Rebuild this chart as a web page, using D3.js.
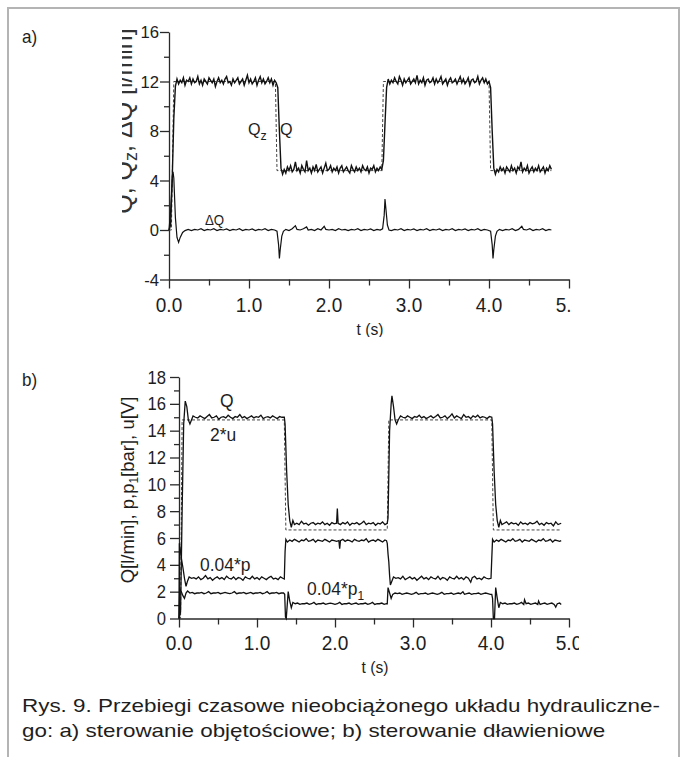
<!DOCTYPE html>
<html>
<head>
<meta charset="utf-8">
<script src="https://cdn.jsdelivr.net/npm/d3@7"></script>
<style>
  body { margin: 0; background: #fff; }
  text { font-family: "Liberation Sans", Arial, sans-serif; fill: #1e1e1e; }
</style>
</head>
<body>
<div id="chart"></div>
<script>
// ---- tick values ----
const xTicks = [0, 1, 2, 3, 4, 5];
const xMinor = [0.5, 1.5, 2.5, 3.5, 4.5];
const aYTicks = [-4, 0, 4, 8, 12, 16];
const aYMinor = [-2, 2, 6, 10, 14];
const bYTicks = [0, 2, 4, 6, 8, 10, 12, 14, 16, 18];
const bYMinor = [1, 3, 5, 7, 9, 11, 13, 15, 17];

// ---- panel a) ----
// Q sampled every 0.02 s from t = 0 (one row = 0.2 s)
const aDt = 0.02;
const aQ = [
  0, 0.4, 4.0, 9.0, 11.6, 12.2, 11.8, 12.1, 11.9, 12.3,
  11.7, 12.1, 12.0, 12.3, 11.8, 12.2, 11.9, 12.0, 12.4, 11.8,
  12.1, 11.7, 12.2, 12.0, 11.8, 12.3, 12.1, 11.9, 12.2, 11.6,
  12.0, 12.3, 11.9, 12.1, 11.8, 12.2, 12.4, 11.9, 12.0, 11.7,
  12.2, 11.9, 12.1, 12.3, 11.8, 12.0, 12.2, 11.7, 12.1, 12.5,
  11.9, 12.2, 11.8, 12.0, 12.3, 11.7, 12.1, 12.4, 11.9, 12.2,
  11.8, 12.0, 12.3, 11.9, 12.2, 11.7, 12.1, 11.9, 11.5, 8.0,
  5.0, 4.5, 4.9, 4.6, 5.1, 4.8, 5.2, 4.7, 4.9, 5.5,
  4.8, 5.0, 4.6, 5.2, 4.9, 4.7, 5.6, 4.8, 5.0, 4.6,
  5.1, 4.8, 5.3, 4.7, 4.9, 5.1, 4.6, 5.0, 5.4, 4.8,
  4.9, 5.2, 4.7, 5.0, 4.8, 5.1, 4.6, 5.0, 5.2, 4.7,
  4.9, 5.1, 4.8, 4.6, 5.2, 4.9, 4.7, 5.1, 4.8, 5.0,
  4.7, 5.2, 4.9, 4.8, 5.1, 4.6, 5.0, 4.9, 5.2, 4.7,
  5.0, 4.8, 5.1, 4.9, 5.6, 8.6, 11.5, 12.2, 11.8, 12.1,
  11.9, 12.3, 12.0, 11.8, 12.4, 12.1, 11.7, 12.2, 11.9, 12.1,
  12.3, 11.8, 12.0, 12.2, 11.9, 12.5, 11.8, 12.1, 11.9, 12.3,
  11.7, 12.1, 12.2, 11.9, 12.0, 12.3, 11.8, 12.2, 11.9, 12.1,
  12.4, 11.8, 12.0, 12.2, 11.7, 12.1, 12.3, 11.9, 12.0, 12.2,
  11.8, 12.1, 12.4, 11.9, 12.2, 11.8, 12.0, 12.3, 11.7, 12.1,
  12.2, 11.9, 12.0, 12.4, 11.8, 12.1, 12.3, 11.9, 12.2, 11.8,
  12.0, 11.5, 8.0, 5.0, 4.5, 4.9, 4.7, 5.1, 4.8, 5.0,
  4.6, 5.1, 4.9, 4.7, 5.2, 4.8, 5.0, 4.6, 5.1, 4.9,
  5.5, 4.7, 5.0, 4.8, 5.2, 4.6, 4.9, 5.1, 4.7, 5.0,
  4.8, 5.2, 4.7, 4.9, 5.1, 4.6, 5.0, 4.8, 5.2, 4.9
];

// [t (s), value]
const aQz = [[0,0],[0.03,0],[0.06,12],[1.33,12],[1.35,4.8],[2.66,4.8],[2.68,12],[4.0,12],[4.02,4.8],[4.78,4.8]];

const aDQ = [[0,0],[0.02,1.5],[0.04,4.2],[0.05,4.7],[0.06,4.2],[0.08,1.0],[0.10,-0.6],[0.12,-1.0],[0.14,-0.6],
  [0.17,-0.2],[0.20,-0.05],[0.24,0.05],[0.28,-0.05],[0.32,0.05],[0.36,0],[0.40,0.1],[0.44,-0.05],[0.48,0.05],
  [0.52,0],[0.56,0.1],[0.60,-0.05],[0.64,0.05],[0.68,0],[0.72,0.08],[0.76,-0.05],[0.80,0.05],[0.84,0],[0.88,0.1],
  [0.92,-0.05],[0.96,0.05],[1.00,0],[1.04,0.08],[1.08,-0.05],[1.12,0.05],[1.16,0],[1.20,0.1],[1.24,-0.05],
  [1.28,0.05],[1.32,0],[1.35,-0.1],[1.37,-1.2],[1.38,-2.3],[1.39,-1.6],[1.41,-0.5],[1.43,-0.1],[1.46,0.05],
  [1.50,-0.05],[1.54,0.1],[1.58,0.35],[1.60,0.05],[1.64,0],[1.68,0.1],[1.72,0.25],[1.74,0],[1.78,0.05],
  [1.82,-0.05],[1.86,0.1],[1.90,0],[1.94,0.3],[1.96,0.05],[2.00,0],[2.04,0.05],[2.08,-0.05],[2.12,0.1],[2.16,0],
  [2.20,0.05],[2.24,-0.05],[2.28,0.05],[2.32,0],[2.36,0.1],[2.40,-0.05],[2.44,0.05],[2.48,0],[2.52,0.08],
  [2.56,-0.05],[2.60,0.05],[2.64,0],[2.67,0.1],[2.69,1.2],[2.70,2.5],[2.71,1.8],[2.73,0.4],[2.75,0],[2.78,-0.05],
  [2.82,0.05],[2.86,0],[2.90,0.1],[2.94,-0.05],[2.98,0.05],[3.02,0],[3.06,0.08],[3.10,-0.05],[3.14,0.05],[3.18,0],
  [3.22,0.1],[3.26,-0.05],[3.30,0.05],[3.34,0],[3.38,0.08],[3.42,-0.05],[3.46,0.05],[3.50,0],[3.54,0.1],
  [3.58,-0.05],[3.62,0.05],[3.66,0],[3.70,0.08],[3.74,-0.05],[3.78,0.05],[3.82,0],[3.86,0.1],[3.90,-0.05],
  [3.94,0.05],[3.98,0],[4.02,-0.1],[4.04,-1.2],[4.05,-2.3],[4.06,-1.6],[4.08,-0.5],[4.10,-0.1],[4.13,0.05],
  [4.17,-0.05],[4.21,0.05],[4.25,0],[4.29,0.1],[4.33,-0.05],[4.37,0.05],[4.41,0.3],[4.43,0.05],[4.47,0],
  [4.51,0.1],[4.55,-0.05],[4.59,0.05],[4.63,0],[4.67,0.1],[4.71,-0.05],[4.75,0.05],[4.78,0]];

// ---- panel b) : [t (s), value] ----
const bU2 = [[0,0],[0.02,0],[0.04,14.8],[1.35,14.8],[1.37,6.6],[2.67,6.6],[2.69,14.8],[4.01,14.8],[4.03,6.6],[4.90,6.6]];

const bQ = [[0,0],[0.02,0.5],[0.04,8],[0.06,14.5],[0.08,16.2],[0.10,15.8],[0.12,14.8],[0.14,14.5],[0.16,14.8],
  [0.18,15.1],[0.21,15.0],
  [0.24,14.95],[0.27,15.1],[0.30,15.0],[0.33,14.9],[0.36,15.05],[0.39,15.2],[0.42,14.95],[0.45,15.0],[0.48,15.1],
  [0.51,14.85],[0.54,15.0],[0.57,15.05],[0.60,14.95],[0.63,15.15],[0.66,15.0],[0.69,14.9],[0.72,15.05],[0.75,15.0],
  [0.78,15.2],[0.81,14.95],[0.84,15.05],[0.87,14.9],[0.90,15.0],[0.93,15.1],[0.96,14.95],[0.99,15.05],[1.02,15.0],
  [1.05,15.15],[1.08,14.9],[1.11,15.0],[1.14,15.05],[1.17,14.95],[1.20,15.1],[1.23,15.0],[1.26,14.9],[1.29,15.05],
  [1.32,15.0],[1.35,15.0],
  [1.36,14.5],[1.38,11],[1.40,8.5],[1.42,7.3],[1.44,6.8],[1.46,7.3],[1.48,7.0],
  [1.51,7.1],[1.54,7.0],[1.57,7.25],[1.60,7.05],[1.63,7.1],[1.66,6.95],[1.69,7.1],[1.72,7.15],[1.75,7.0],[1.78,7.1],
  [1.81,7.05],[1.84,7.2],[1.87,7.0],[1.90,7.1],[1.93,6.95],[1.96,7.15],[1.99,7.05],[2.02,7.1],[2.03,8.2],[2.04,7.1],
  [2.07,7.0],[2.10,7.15],[2.13,7.05],[2.16,7.2],[2.19,6.95],[2.22,7.1],[2.25,7.05],[2.28,7.15],[2.31,7.0],[2.34,7.1],
  [2.37,7.25],[2.40,7.0],[2.43,7.1],[2.46,7.05],[2.49,7.15],[2.52,6.95],[2.55,7.1],[2.58,7.05],[2.61,7.2],[2.64,7.0],
  [2.67,7.1],
  [2.68,7.5],[2.70,14],[2.72,16.0],[2.73,16.6],[2.75,15.8],[2.77,14.8],[2.79,14.5],[2.81,14.8],[2.84,15.1],[2.87,15.0],
  [2.90,14.95],[2.93,15.1],[2.96,15.0],[2.99,14.9],[3.02,15.05],[3.05,15.0],[3.08,15.15],[3.11,14.95],[3.14,15.05],
  [3.17,14.9],[3.20,15.0],[3.23,15.1],[3.26,14.95],[3.29,15.05],[3.32,15.2],[3.35,14.95],[3.38,15.0],[3.41,15.1],
  [3.44,14.9],[3.47,15.05],[3.50,15.25],[3.53,14.95],[3.56,15.1],[3.59,15.0],[3.62,14.9],[3.65,15.2],[3.68,15.0],
  [3.71,15.05],[3.74,14.9],[3.77,15.1],[3.80,15.0],[3.83,15.15],[3.86,14.95],[3.89,15.05],[3.92,15.0],[3.95,14.9],
  [3.98,15.05],[4.01,15.0],
  [4.02,14.5],[4.04,11],[4.06,8.5],[4.08,7.3],[4.10,6.8],[4.12,7.3],[4.14,7.0],
  [4.17,7.1],[4.20,7.2],[4.23,7.0],[4.26,7.15],[4.29,7.05],[4.32,7.1],[4.35,6.95],[4.38,7.2],[4.41,7.05],[4.44,7.1],
  [4.47,7.0],[4.50,7.15],[4.53,7.05],[4.56,7.1],[4.59,7.25],[4.62,7.0],[4.65,7.1],[4.68,6.95],[4.71,7.15],[4.74,7.05],
  [4.77,7.1],[4.80,6.9],[4.83,7.2],[4.86,7.0],[4.90,7.1]];

const bP = [[0,0],[0.005,5.6],[0.015,5.2],[0.03,4.5],[0.05,3.8],[0.07,3.0],[0.09,2.4],[0.11,2.8],[0.13,3.1],[0.16,3.0],
  [0.19,3.05],[0.22,2.95],[0.25,3.1],[0.28,2.9],[0.31,3.0],[0.34,3.2],[0.37,2.95],[0.40,3.05],[0.43,2.85],[0.46,3.0],
  [0.49,3.1],[0.52,2.95],[0.55,3.05],[0.58,2.9],[0.61,3.15],[0.64,3.0],[0.67,2.95],[0.70,3.1],[0.73,2.9],[0.76,3.05],
  [0.79,3.0],[0.82,2.85],[0.85,3.1],[0.88,3.0],[0.91,2.95],[0.94,3.15],[0.97,2.95],[1.00,3.05],[1.03,2.9],[1.06,3.1],
  [1.09,3.0],[1.12,2.9],[1.15,3.05],[1.18,3.15],[1.21,2.95],[1.24,3.0],[1.27,2.9],[1.30,3.1],[1.33,3.0],[1.35,2.95],
  [1.36,5.0],[1.37,5.9],[1.39,5.7],
  [1.42,5.85],[1.45,5.75],[1.48,5.9],[1.51,5.8],[1.54,5.7],[1.57,5.85],[1.60,5.8],[1.63,5.95],[1.66,5.75],[1.69,5.8],
  [1.72,5.9],[1.75,5.7],[1.78,5.85],[1.81,5.8],[1.84,5.75],[1.87,5.9],[1.90,5.8],[1.93,5.7],[1.96,5.85],[1.99,5.8],
  [2.02,5.75],[2.05,5.8],[2.06,5.2],[2.07,5.8],[2.10,5.9],[2.13,5.75],[2.16,5.85],[2.19,5.8],[2.22,5.7],[2.25,5.9],
  [2.28,5.8],[2.31,5.75],[2.34,5.85],[2.37,5.8],[2.40,5.95],[2.43,5.7],[2.46,5.8],[2.49,5.85],[2.52,5.75],[2.55,5.9],
  [2.58,5.8],[2.61,5.7],[2.64,5.85],[2.66,5.8],
  [2.67,5.6],[2.68,4.8],[2.69,4.2],[2.70,3.2],[2.71,2.5],[2.73,2.8],[2.75,3.1],[2.78,3.0],
  [2.81,3.05],[2.84,2.95],[2.87,3.15],[2.90,2.9],[2.93,3.0],[2.96,3.1],[2.99,2.95],[3.02,3.05],[3.05,2.85],[3.08,3.0],
  [3.11,3.15],[3.14,2.95],[3.17,3.05],[3.20,2.9],[3.23,3.1],[3.26,3.0],[3.29,2.95],[3.32,3.15],[3.35,2.9],[3.38,3.05],
  [3.41,3.0],[3.44,2.85],[3.47,3.1],[3.50,3.0],[3.53,2.95],[3.56,3.15],[3.59,2.95],[3.62,3.05],[3.65,2.9],[3.68,3.1],
  [3.71,3.0],[3.74,2.7],[3.76,3.05],[3.79,3.15],[3.82,2.95],[3.85,3.0],[3.88,2.9],[3.91,3.1],[3.94,3.0],[3.97,2.95],
  [4.00,3.0],
  [4.01,4.5],[4.02,5.9],[4.04,5.7],
  [4.07,5.85],[4.10,5.75],[4.13,5.9],[4.16,5.8],[4.19,5.7],[4.22,5.85],[4.25,5.8],[4.28,5.95],[4.31,5.75],[4.34,5.8],
  [4.37,5.9],[4.40,5.7],[4.43,5.85],[4.46,5.8],[4.49,5.75],[4.52,5.9],[4.55,5.8],[4.58,5.7],[4.61,5.85],[4.64,5.8],
  [4.67,5.95],[4.70,5.75],[4.73,5.8],[4.76,5.9],[4.79,5.7],[4.82,5.85],[4.85,5.8],[4.88,5.75],[4.90,5.8]];

const bP1 = [[0,0],[0.01,2.2],[0.03,2.0],[0.05,1.7],[0.07,1.5],[0.09,1.9],[0.11,2.05],[0.14,1.9],
  [0.17,1.95],[0.20,1.85],[0.23,1.9],[0.26,1.9],[0.29,1.95],[0.32,1.85],[0.35,1.9],[0.38,2.0],[0.41,1.85],[0.44,1.9],
  [0.47,1.9],[0.50,1.95],[0.53,1.85],[0.56,1.9],[0.59,1.95],[0.62,1.9],[0.65,1.85],[0.68,1.9],[0.71,2.0],[0.74,1.85],
  [0.77,1.9],[0.80,1.9],[0.83,1.95],[0.86,1.85],[0.89,1.9],[0.92,1.95],[0.95,1.85],[0.98,1.9],[1.01,1.9],[1.04,1.95],
  [1.07,1.85],[1.10,1.9],[1.13,2.0],[1.16,1.85],[1.19,1.9],[1.22,1.9],[1.25,1.95],[1.28,1.85],[1.31,1.9],[1.34,1.9],
  [1.355,1.8],[1.365,0.1],[1.375,0.0],[1.39,1.2],[1.40,2.0],[1.42,1.3],[1.44,0.8],[1.46,1.2],[1.49,1.1],
  [1.52,1.15],[1.55,1.05],[1.58,1.1],[1.61,1.1],[1.64,1.15],[1.67,1.05],[1.70,1.1],[1.73,1.2],[1.76,1.05],[1.79,1.1],
  [1.82,1.1],[1.85,1.15],[1.88,1.05],[1.91,1.1],[1.94,1.15],[1.97,1.1],[2.00,1.05],[2.03,1.1],[2.06,1.2],[2.09,1.05],
  [2.12,1.1],[2.15,1.1],[2.18,1.15],[2.21,1.05],[2.24,1.1],[2.27,1.15],[2.30,1.05],[2.33,1.1],[2.36,1.1],[2.39,1.15],
  [2.42,1.05],[2.45,1.1],[2.48,1.2],[2.51,1.05],[2.54,1.1],[2.57,1.1],[2.60,1.15],[2.63,1.05],[2.66,1.1],[2.67,1.1],
  [2.68,2.3],[2.70,1.9],[2.72,1.5],[2.74,1.8],[2.77,1.9],
  [2.80,1.85],[2.83,1.9],[2.86,1.8],[2.89,1.85],[2.92,1.9],[2.95,1.85],[2.98,1.8],[3.01,1.85],[3.04,1.95],[3.07,1.8],
  [3.10,1.85],[3.13,1.85],[3.16,1.9],[3.19,1.8],[3.22,1.85],[3.25,1.9],[3.28,1.85],[3.31,1.8],[3.34,1.85],[3.37,1.95],
  [3.40,1.8],[3.43,1.85],[3.46,1.85],[3.49,1.9],[3.52,1.8],[3.55,1.85],[3.58,1.9],[3.61,1.85],[3.64,2.0],[3.66,1.8],
  [3.69,1.85],[3.72,1.9],[3.75,1.8],[3.78,1.85],[3.81,1.85],[3.84,1.9],[3.87,1.8],[3.90,1.85],[3.93,1.9],[3.96,1.85],
  [3.99,1.8],[4.01,1.8],
  [4.02,1.5],[4.03,0.0],[4.045,0.0],[4.06,2.3],[4.08,1.5],[4.10,0.8],[4.12,1.2],[4.15,1.1],
  [4.18,1.15],[4.21,1.05],[4.24,1.1],[4.27,1.1],[4.30,1.15],[4.33,1.05],[4.36,1.1],[4.39,1.2],[4.42,1.05],[4.43,1.4],
  [4.45,1.1],[4.48,1.15],[4.51,1.05],[4.54,1.1],[4.57,1.15],[4.60,1.05],[4.61,1.3],[4.63,1.05],[4.66,1.1],[4.69,1.15],
  [4.72,1.05],[4.75,1.1],[4.78,1.15],[4.81,1.05],[4.83,0.85],[4.85,1.1],[4.88,1.15],[4.90,1.05]];

const captionLines = [
  "Rys. 9. Przebiegi czasowe nieobciążonego układu hydrauliczne-",
  "go: a) sterowanie objętościowe; b) sterowanie dławieniowe"
];

const width = 686, height = 757;

const svg = d3.select("#chart")
  .append("svg")
  .attr("width", width)
  .attr("height", height);

const defs = svg.append("defs");

// Frame
svg.append("rect")
  .attr("x", 8).attr("y", 8)
  .attr("width", 671).attr("height", 800)
  .attr("fill", "none")
  .attr("stroke", "#b4b4b4")
  .attr("stroke-width", 2);

// helper for (slightly narrow) text
function label(g, x, y, txt, size, anchor, sx) {
  return g.append("text")
    .attr("transform", `translate(${x},${y}) scale(${sx},1)`)
    .attr("text-anchor", anchor || "start")
    .style("font-size", size + "px")
    .text(txt);
}

// opt: tick label sizes / gaps for each panel
function drawPanel(g, x, y, yTicks, yMinor, opt) {
  const x0 = x.range()[0];
  const y0 = y.range()[0];

  // minor ticks
  g.append("g")
    .attr("transform", `translate(${x0},0)`)
    .call(d3.axisLeft(y).tickValues(yMinor).tickSize(5).tickSizeOuter(0).tickFormat(""))
    .call(a => a.select(".domain").remove());
  g.append("g")
    .attr("transform", `translate(0,${y0})`)
    .call(d3.axisBottom(x).tickValues(xMinor).tickSize(6).tickSizeOuter(0).tickFormat(""))
    .call(a => a.select(".domain").remove());

  // major ticks + axis lines
  g.append("g")
    .attr("transform", `translate(${x0},0)`)
    .call(d3.axisLeft(y).tickValues(yTicks).tickSize(9).tickSizeOuter(0).tickFormat(""));
  g.append("g")
    .attr("transform", `translate(0,${y0})`)
    .call(d3.axisBottom(x).tickValues(xTicks).tickSize(9).tickSizeOuter(0).tickFormat(""));

  g.selectAll(".tick line, .domain")
    .attr("stroke", "#2a2a2a")
    .attr("stroke-width", 1.3);

  // tick labels
  yTicks.forEach(v => label(g, x0 - opt.yGap, y(v) + opt.ySize * 0.36, String(v), opt.ySize, "end", opt.ySx));
  xTicks.forEach(v => label(g, x(v), opt.xLabelY, v.toFixed(1), opt.xSize, "middle", opt.xSx));
  label(g, (x0 + x.range()[1]) / 2 + 1, opt.tLabelY, "t (s)", 17, "middle", 0.92);
}

const line = (x, y) => d3.line().x(d => x(d[0])).y(d => y(d[1]));

// ================= panel a =================
defs.append("clipPath").attr("id", "clipA")
  .append("rect").attr("x", 0).attr("y", 0).attr("width", 572).attr("height", 337);
defs.append("clipPath").attr("id", "clipAy")
  .append("rect").attr("x", 122).attr("y", 0).attr("width", 40).attr("height", 300);

const gA = svg.append("g").attr("clip-path", "url(#clipA)");
const xA = d3.scaleLinear().domain([0, 5]).range([169, 569]);
const yA = d3.scaleLinear().domain([-4, 16]).range([279.5, 32]);

label(gA, 22, 43, "a)", 18, "start", 0.95);
drawPanel(gA, xA, yA, aYTicks, aYMinor,
  { yGap: 10, ySize: 17, ySx: 0.98, xSize: 20, xSx: 0.95, xLabelY: 312, tLabelY: 335 });

// y title, half cut off on the left like in the source scan
const aTitle = gA.append("g").attr("clip-path", "url(#clipAy)")
  .append("text")
  .attr("transform", "translate(132,121) rotate(-90)")
  .attr("text-anchor", "middle")
  .style("font-size", "25px")
  .style("fill", "#333");
aTitle.append("tspan").text("Q, Q");
aTitle.append("tspan").attr("dy", 5).style("font-size", "18px").text("z");
aTitle.append("tspan").attr("dy", -5).text(", ΔQ  [l/min]");

gA.append("path").datum(aQz)
  .attr("d", line(xA, yA))
  .attr("fill", "none").attr("stroke", "#444")
  .attr("stroke-width", 1).attr("stroke-dasharray", "3,2");
gA.append("path").datum(aDQ)
  .attr("d", line(xA, yA))
  .attr("fill", "none").attr("stroke", "#111").attr("stroke-width", 1.2);
gA.append("path").datum(aQ.map((v, i) => [i * aDt, v]))
  .attr("d", line(xA, yA))
  .attr("fill", "none").attr("stroke", "#111").attr("stroke-width", 1.4);

// series labels
const qz = gA.append("text").attr("transform", "translate(248,135) scale(0.95,1)").style("font-size", "17px");
qz.append("tspan").text("Q");
qz.append("tspan").attr("dy", 5).style("font-size", "13px").text("z");
label(gA, 280, 135, "Q", 17, "start", 0.95);
label(gA, 205, 225, "ΔQ", 14, "start", 0.95);

// ================= panel b =================
defs.append("clipPath").attr("id", "clipB")
  .append("rect").attr("x", 0).attr("y", 337).attr("width", 579).attr("height", 350);

const gB = svg.append("g").attr("clip-path", "url(#clipB)");
const xB = d3.scaleLinear().domain([0, 5]).range([179, 569]);
const yB = d3.scaleLinear().domain([0, 18]).range([618.5, 377]);

label(gB, 22, 386, "b)", 18, "start", 0.95);
drawPanel(gB, xB, yB, bYTicks, bYMinor,
  { yGap: 13, ySize: 18.5, ySx: 0.9, xSize: 21, xSx: 0.91, xLabelY: 650, tLabelY: 673 });

const bTitle = gB.append("text")
  .attr("transform", "translate(134,490) rotate(-90)")
  .attr("text-anchor", "middle")
  .style("font-size", "18.5px");
bTitle.append("tspan").text("Q[l/min], p,p");
bTitle.append("tspan").attr("dy", 4).style("font-size", "12px").text("1");
bTitle.append("tspan").attr("dy", -4).text("[bar], u[V]");

gB.append("path").datum(bU2)
  .attr("d", line(xB, yB))
  .attr("fill", "none").attr("stroke", "#444")
  .attr("stroke-width", 1).attr("stroke-dasharray", "3,2");
[bP1, bP, bQ].forEach(s => {
  gB.append("path").datum(s)
    .attr("d", line(xB, yB))
    .attr("fill", "none").attr("stroke", "#111").attr("stroke-width", 1.3);
});

label(gB, 220, 407, "Q", 19, "start", 0.92);
label(gB, 210, 441, "2*u", 19, "start", 0.92);
label(gB, 200, 571, "0.04*p", 19, "start", 0.92);
const p1 = gB.append("text").attr("transform", "translate(307,595) scale(0.92,1)").style("font-size", "19px");
p1.append("tspan").text("0.04*p");
p1.append("tspan").attr("dy", 5).style("font-size", "13px").text("1");

// ================= caption =================
const cap = svg.append("g");
const c1 = cap.append("text").attr("x", 22).attr("y", 712).style("font-size", "19px").text(captionLines[0]);
const n1 = c1.node().getComputedTextLength();
const k = 638 / n1;
c1.attr("textLength", 638).attr("lengthAdjust", "spacingAndGlyphs");
const c2 = cap.append("text").attr("x", 22).attr("y", 737).style("font-size", "19px").text(captionLines[1]);
c2.attr("textLength", c2.node().getComputedTextLength() * k).attr("lengthAdjust", "spacingAndGlyphs");
</script>
</body>
</html>
